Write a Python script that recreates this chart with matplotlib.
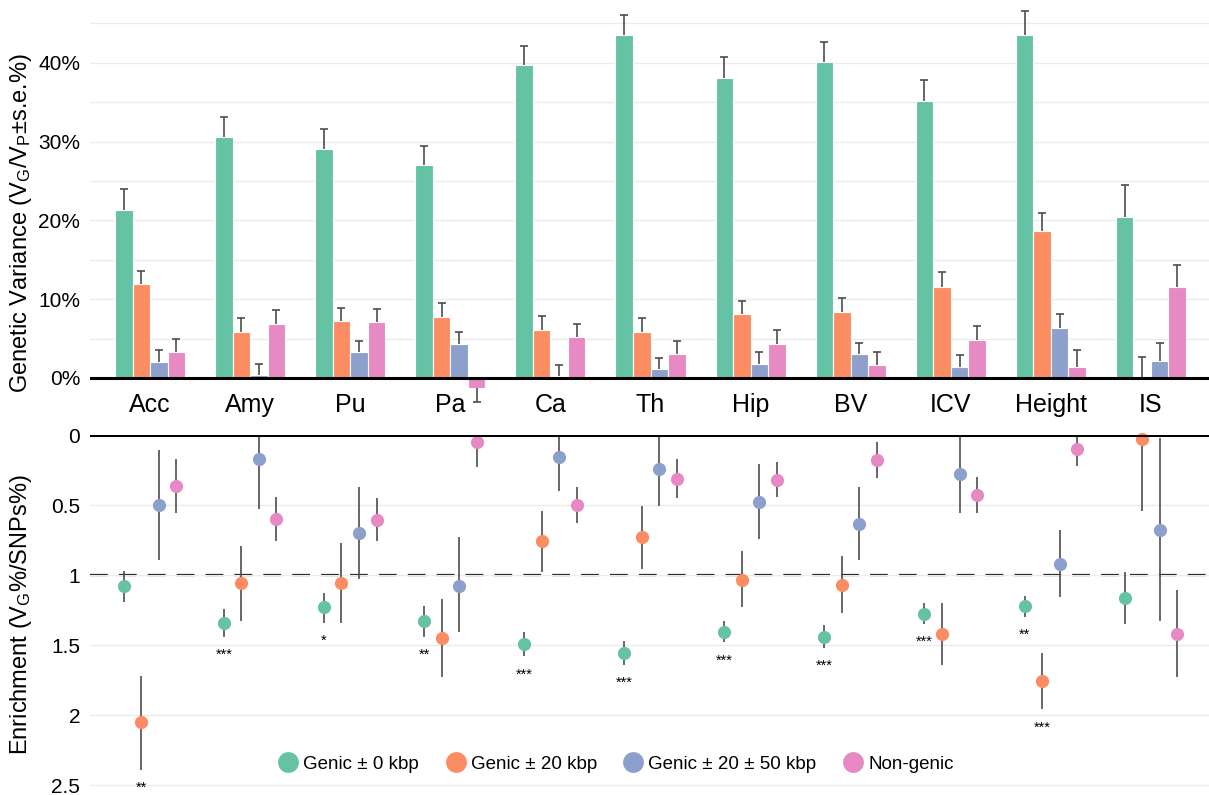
"""
Genetic variance per annotation class (top) and enrichment of
variance per SNP share (bottom) for each brain trait.
"""

import matplotlib.pyplot as plt
from matplotlib.lines import Line2D

plt.rcParams['font.family'] = ['Liberation Sans', 'DejaVu Sans']
plt.rcParams['mathtext.fontset'] = 'custom'
plt.rcParams['mathtext.rm'] = 'Liberation Sans'
plt.rcParams['mathtext.it'] = 'Liberation Sans'

traits = ["Acc", "Amy", "Pu", "Pa", "Ca", "Th", "Hip", "BV", "ICV", "Height", "IS"]
classes = ["Genic \u00b1 0 kbp", "Genic \u00b1 20 kbp", "Genic \u00b1 20 \u00b1 50 kbp", "Non-genic"]
colors = ["#66c2a5", "#fc8d62", "#8da0cb", "#e78ac3"]

# variance explained (%) and its standard error
var_genic0 = [21.3, 30.6, 29.1, 27.0, 39.7, 43.6, 38.1, 40.1, 35.1, 43.5, 20.4]
var_genic20 = [11.9, 5.9, 7.2, 7.8, 6.1, 5.9, 8.1, 8.4, 11.6, 18.7, 0.0]
var_genic50 = [2.0, 0.4, 3.3, 4.3, 0.25, 1.1, 1.8, 3.05, 1.4, 6.3, 2.2]
var_nongenic = [3.3, 6.9, 7.1, -1.3, 5.2, 3.0, 4.3, 1.7, 4.8, 1.4, 11.5]

se_genic0 = [2.7, 2.5, 2.5, 2.5, 2.5, 2.5, 2.6, 2.5, 2.7, 3.1, 4.1]
se_genic20 = [1.7, 1.7, 1.7, 1.7, 1.8, 1.7, 1.7, 1.7, 1.8, 2.2, 2.7]
se_genic50 = [1.5, 1.4, 1.4, 1.5, 1.4, 1.4, 1.5, 1.45, 1.5, 1.8, 2.3]
se_nongenic = [1.7, 1.7, 1.6, 1.7, 1.7, 1.7, 1.8, 1.6, 1.8, 2.1, 2.8]

# enrichment with lower / upper interval ends
enr_genic0 = [1.08, 1.34, 1.23, 1.33, 1.495, 1.557, 1.41, 1.44, 1.28, 1.22, 1.165]
lo_genic0 = [0.97, 1.24, 1.13, 1.22, 1.41, 1.47, 1.33, 1.36, 1.20, 1.15, 0.98]
hi_genic0 = [1.19, 1.44, 1.34, 1.44, 1.58, 1.64, 1.48, 1.52, 1.35, 1.30, 1.35]

enr_genic20 = [2.05, 1.06, 1.06, 1.45, 0.757, 0.73, 1.035, 1.07, 1.42, 1.76, 0.03]
lo_genic20 = [1.72, 0.79, 0.77, 1.17, 0.54, 0.51, 0.83, 0.865, 1.20, 1.56, 0.0]
hi_genic20 = [2.39, 1.33, 1.34, 1.73, 0.98, 0.96, 1.23, 1.27, 1.64, 1.96, 0.54]

enr_genic50 = [0.50, 0.17, 0.70, 1.08, 0.16, 0.245, 0.476, 0.635, 0.28, 0.92, 0.68]
lo_genic50 = [0.107, 0.0, 0.37, 0.73, 0.0, 0.0, 0.21, 0.37, 0.0, 0.68, 0.02]
hi_genic50 = [0.895, 0.53, 1.03, 1.41, 0.40, 0.51, 0.74, 0.895, 0.56, 1.16, 1.33]

enr_nongenic = [0.364, 0.60, 0.61, 0.05, 0.50, 0.314, 0.32, 0.18, 0.43, 0.10, 1.42]
lo_nongenic = [0.174, 0.44, 0.45, 0.0, 0.37, 0.17, 0.195, 0.05, 0.30, 0.0, 1.11]
hi_nongenic = [0.56, 0.76, 0.76, 0.23, 0.63, 0.45, 0.44, 0.31, 0.56, 0.22, 1.73]

sig_genic0 = ["", "***", "*", "**", "***", "***", "***", "***", "***", "**", ""]
sig_genic20 = ["**", "", "", "", "", "", "", "", "", "***", ""]

variances = [var_genic0, var_genic20, var_genic50, var_nongenic]
ses = [se_genic0, se_genic20, se_genic50, se_nongenic]
enrich = [enr_genic0, enr_genic20, enr_genic50, enr_nongenic]
lows = [lo_genic0, lo_genic20, lo_genic50, lo_nongenic]
highs = [hi_genic0, hi_genic20, hi_genic50, hi_nongenic]
sigs = [sig_genic0, sig_genic20, None, None]

W, H = 1209, 795
fig = plt.figure(figsize=(W / 100, H / 100), dpi=100)
ax1 = fig.add_axes([90 / W, (H - 418) / H, (W - 90) / W, 415 / H])
ax2 = fig.add_axes([90 / W, 0, (W - 90) / W, 360 / H])

x = list(range(len(traits)))
step = 0.175
offsets = [(i - 1.5) * step for i in range(4)]
grid_col = "#ebebeb"
err_col = "#4d4d4d"
cap = 0.04

# ---- top: bars of variance explained ----
for k in range(4):
    xs = [xi + offsets[k] for xi in x]
    ax1.bar(xs, variances[k], width=step, color=colors[k],
            edgecolor="white", linewidth=0.8, zorder=2)
    # one-sided error bar pointing away from zero, cap only at the tip
    ends = [v + s if v >= 0 else v - s for v, s in zip(variances[k], ses[k])]
    ax1.vlines(xs, variances[k], ends, color=err_col, lw=1.2, zorder=3,
               clip_on=False)
    ax1.hlines(ends, [xx - cap for xx in xs], [xx + cap for xx in xs],
               color=err_col, lw=1.2, zorder=3, clip_on=False)

ax1.axhline(0, color="black", lw=2.2, zorder=4)
ax1.set_xlim(-0.6, 10.58)
ax1.set_ylim(-5.08, 47.6)
ax1.set_yticks([0, 10, 20, 30, 40])
ax1.set_yticks([5, 15, 25, 35, 45], minor=True)
ax1.set_yticklabels(["0%", "10%", "20%", "30%", "40%"])
ax1.grid(axis="y", which="both", color=grid_col, lw=1, zorder=0)
ax1.set_xticks([])
ax1.tick_params(axis="y", which="both", length=0, labelsize=15, pad=7)
for sp in ax1.spines.values():
    sp.set_visible(False)
for xi, name in zip(x, traits):
    ax1.text(xi, -3.4, name, ha="center", va="center", fontsize=18)
ax1.set_ylabel("Genetic Variance (V$_\\mathrm{G}$/V$_\\mathrm{P}$\u00b1s.e.%)",
               fontsize=17)
ax1.yaxis.set_label_coords(-56 / 1119, 0.47)

# ---- bottom: enrichment points ----
for k in range(4):
    xs = [xi + offsets[k] for xi in x]
    ax2.vlines(xs, lows[k], highs[k], color=err_col, lw=1.2, zorder=2)
    ax2.plot(xs, enrich[k], "o", color=colors[k], ms=9.5, mec="none",
             zorder=3, clip_on=False)
    if sigs[k] is not None:
        for xx, hi, s in zip(xs, highs[k], sigs[k]):
            if s:
                ax2.text(xx, hi + 0.13, s, ha="center", va="center",
                         fontsize=10.5)

ax2.axhline(0, color="black", lw=2.2, zorder=4)
ax2.axhline(1, color="black", lw=1.6, ls=(0, (8, 5)), zorder=1)
ax2.set_xlim(-0.6, 10.58)
ax2.set_ylim(2.571, 0)
ax2.set_yticks([0, 0.5, 1, 1.5, 2, 2.5])
ax2.set_yticklabels(["0", "0.5", "1", "1.5", "2", "2.5"])
ax2.grid(axis="y", color=grid_col, lw=1, zorder=0)
ax2.set_xticks([])
ax2.tick_params(axis="y", length=0, labelsize=15, pad=7)
for sp in ax2.spines.values():
    sp.set_visible(False)
ax2.set_ylabel("Enrichment (V$_\\mathrm{G}$%/SNPs%)", fontsize=17)
ax2.yaxis.set_label_coords(-56 / 1119, 0.5)

handles = [Line2D([], [], ls="none", marker="o", ms=15, color=c, mec="none")
           for c in colors]
ax2.legend(handles, classes, ncol=4, loc="center",
           bbox_to_anchor=(0.469, 0.086), frameon=False, fontsize=13.5,
           handletextpad=0.15, columnspacing=1.3, handlelength=1.3)

fig.savefig("out.png", dpi=100)
